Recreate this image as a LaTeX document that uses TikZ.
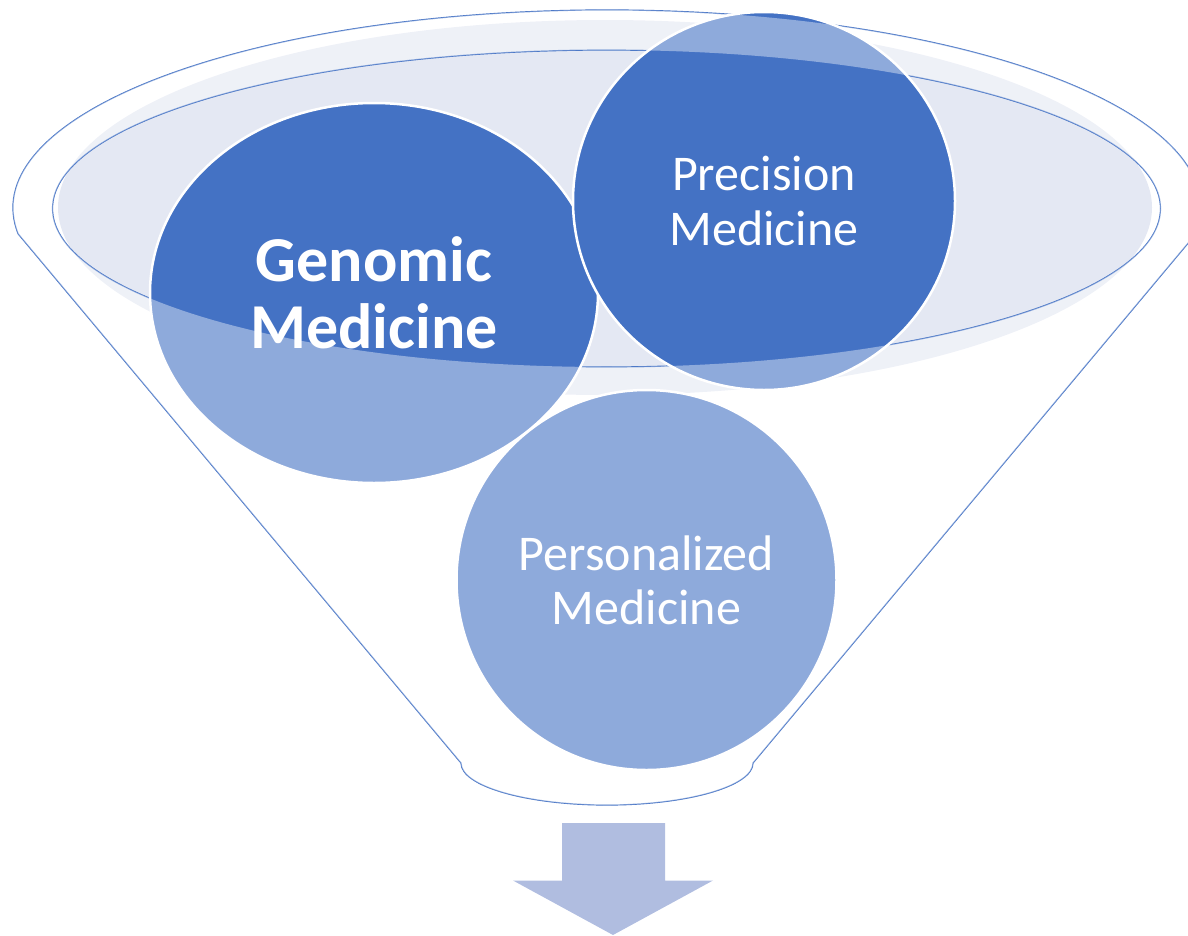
\documentclass[tikz,border=0pt]{standalone}
\usepackage{fontspec}
\setmainfont{Carlito}
\usetikzlibrary{shapes.geometric}
\definecolor{funnelblue}{HTML}{4472C4}
\definecolor{mouthfill}{HTML}{E4E8F3}
\definecolor{arrowfill}{HTML}{B0BDE0}

\begin{document}
\begin{tikzpicture}[x=1pt,y=1pt,
  ball/.style={ellipse,fill=funnelblue,draw=white,line width=2.5pt,text=white,align=center,inner sep=0pt},
  rim/.style={draw=funnelblue,line width=1.2pt}]
\useasboundingbox (0,0) rectangle (1188,-935);
% mouth of the funnel
\fill[mouthfill] (605,-207.5) ellipse[x radius=547,y radius=187.5];
\draw[rim] (18.1,-233.8) arc[start angle=187.5,end angle=-7.5,x radius=594,y radius=198] -- (753,-763) arc[start angle=0,end angle=-180,x radius=146,y radius=42] -- cycle;
\draw[rim] (606.5,-208.5) ellipse[x radius=554,y radius=158.5];
% the three balls
\node[ball,minimum width=448pt,minimum height=380pt,font=\bfseries\fontsize{64}{67}\selectfont] (genomic) at (374,-293) {Genomic\\Medicine};
\node[ball,minimum width=382pt,minimum height=378pt,font=\fontsize{50}{55}\selectfont] (precision) at (764,-201) {Precision\\Medicine};
\node[ball,minimum width=380pt,minimum height=380pt,font=\fontsize{50}{54}\selectfont] (personal) at (646.5,-580) {Personalized\\Medicine};
% front of the funnel
\fill[white,fill opacity=0.4,even odd rule] (18.1,-233.8) arc[start angle=187.5,end angle=-7.5,x radius=594,y radius=198] -- (753,-763) arc[start angle=0,end angle=-180,x radius=146,y radius=42] -- cycle
  (606.5,-208.5) ellipse[x radius=554,y radius=158.5];
% arrow out of the funnel
\fill[arrowfill] (562,-823) -- (665,-823) -- (665,-880.5) -- (713,-880.5) -- (613,-935) -- (513,-880.5) -- (562,-880.5) -- cycle;
\end{tikzpicture}
\end{document}
